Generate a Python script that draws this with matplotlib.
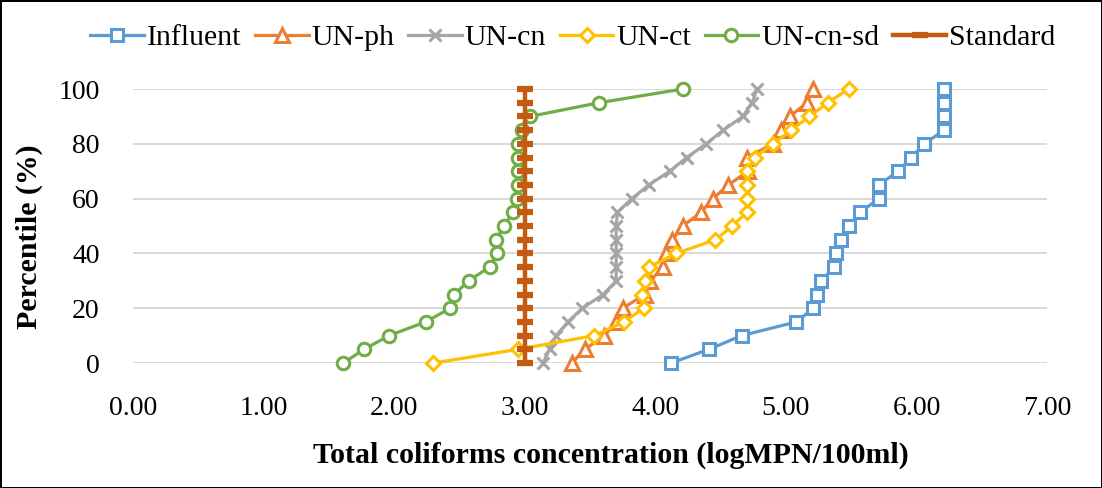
import numpy as np
import matplotlib.pyplot as plt

plt.rcParams['font.family'] = ['Liberation Serif', 'DejaVu Serif']

percentile = list(range(0, 101, 5))

influent = [4.12, 4.41, 4.66, 5.08, 5.21, 5.24, 5.27, 5.37, 5.38, 5.42, 5.48,
            5.57, 5.71, 5.71, 5.86, 5.96, 6.06, 6.21, 6.21, 6.21, 6.21]
un_ph = [3.36, 3.46, 3.61, 3.70, 3.75, 3.92, 3.96, 4.06, 4.08, 4.13, 4.21,
         4.35, 4.44, 4.56, 4.71, 4.70, 4.90, 4.96, 5.03, 5.16, 5.21]
un_cn = [3.14, 3.19, 3.24, 3.33, 3.44, 3.60, 3.70, 3.70, 3.70, 3.70, 3.70,
         3.71, 3.82, 3.95, 4.11, 4.24, 4.39, 4.52, 4.67, 4.74, 4.78]
un_ct = [2.30, 2.95, 3.53, 3.76, 3.91, 3.90, 3.92, 3.95, 4.16, 4.46, 4.59,
         4.70, 4.70, 4.70, 4.70, 4.76, 4.90, 5.04, 5.18, 5.32, 5.48]
un_cn_sd = [1.61, 1.77, 1.96, 2.24, 2.43, 2.46, 2.57, 2.73, 2.79, 2.78, 2.84,
            2.91, 2.94, 2.95, 2.95, 2.95, 2.95, 2.98, 3.04, 3.57, 4.21]
standard = [3.0] * 21

x_ticks = [0, 1, 2, 3, 4, 5, 6, 7]
y_ticks = [0, 20, 40, 60, 80, 100]


def main():
    fig = plt.figure(figsize=(11.02, 4.88), dpi=100, edgecolor='black', linewidth=2)
    ax = fig.add_axes([0.1207, 0.2561, 0.8295, 0.5615])

    lw = 2.3
    ax.plot(influent, percentile, color='#5B9BD5', lw=lw, marker='s', ms=9,
            mfc='white', mew=2.2, label='Influent', clip_on=False, zorder=3)
    ax.plot(un_ph, percentile, color='#ED7D31', lw=lw, marker='^', ms=10,
            mfc='white', mew=2.2, label='UN-ph', clip_on=False, zorder=3)
    ax.plot(un_cn, percentile, color='#A5A5A5', lw=lw, marker='x', ms=8.5,
            mew=2.2, label='UN-cn', clip_on=False, zorder=3)
    ax.plot(un_ct, percentile, color='#FFC000', lw=lw, marker='D', ms=7,
            mfc='white', mew=2.2, label='UN-ct', clip_on=False, zorder=3)
    ax.plot(un_cn_sd, percentile, color='#70AD47', lw=lw, marker='o', ms=9,
            mfc='white', mew=2.2, label='UN-cn-sd', clip_on=False, zorder=3)
    ax.plot(standard, percentile, color='#C55A11', lw=3.2, marker='_', ms=11,
            mew=4.5, label='Standard', clip_on=False, zorder=4)

    ax.set_xlim(0, 7)
    ax.set_ylim(0, 100)
    ax.set_xticks(x_ticks)
    ax.set_xticklabels(['%.2f' % v for v in x_ticks])
    ax.set_yticks(y_ticks)
    ax.tick_params(axis='both', length=0, labelsize=20)
    ax.tick_params(axis='x', pad=24)
    ax.tick_params(axis='y', pad=24)
    ax.grid(axis='y', color='#D9D9D9', lw=1.4)
    ax.set_axisbelow(True)
    for s in ax.spines.values():
        s.set_visible(False)

    fig.text(0.554, 0.066, 'Total coliforms concentration (logMPN/100ml)',
             fontsize=21.5, fontweight='bold', ha='center', va='center')
    fig.text(0.027, 0.514, 'Percentile (%)', fontsize=21.5, fontweight='bold',
             rotation=90, ha='center', va='center')

    fig.legend(loc='center', bbox_to_anchor=(0.520, 0.923), ncol=6, frameon=False,
               fontsize=21.5, handlelength=1.8, handletextpad=0.1, columnspacing=0.45,
               borderaxespad=0)

    fig.savefig('out.png', dpi=100, edgecolor=fig.get_edgecolor())


main()
